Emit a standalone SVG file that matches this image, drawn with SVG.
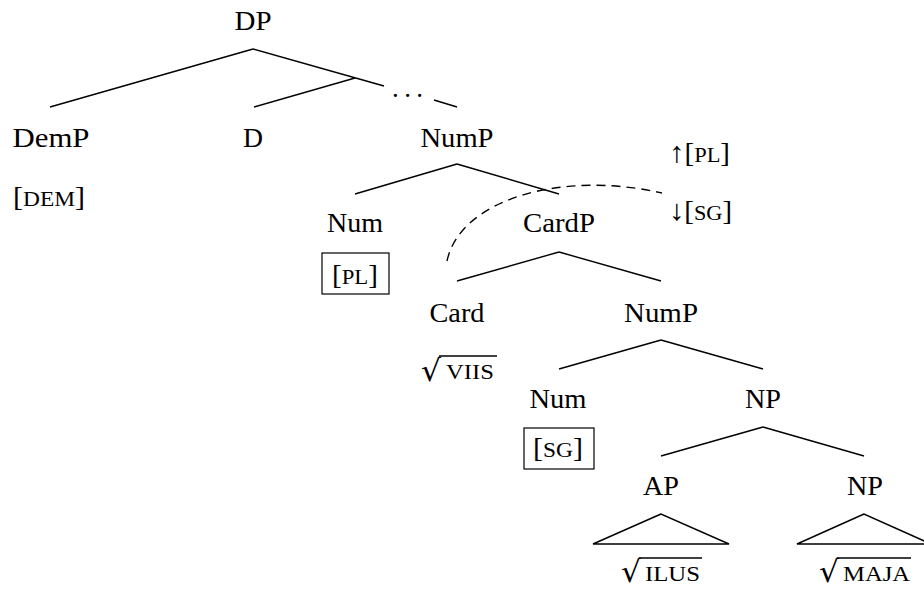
<svg xmlns="http://www.w3.org/2000/svg" width="924" height="590" viewBox="0 0 924 590">
<style>
text{font-family:"Liberation Serif","Times New Roman",serif;fill:#000}
.n{font-size:27px;text-anchor:middle}
.f{font-size:27px}
.sc{font-size:21px}
.ar{font-size:29px}
.r{font-family:"DejaVu Serif",serif;font-size:30px}
.e line,.e path,.e polygon{stroke:#000;stroke-width:1.4;fill:none}
.ov{stroke:#000;stroke-width:1.4}
.box{fill:none;stroke:#000;stroke-width:1.2}
</style>
<rect width="924" height="590" fill="#fff"/>
<g id="connectors" class="e">
<line x1="253" y1="49" x2="50" y2="107"/>
<line x1="253" y1="49" x2="384" y2="86"/>
<line x1="434" y1="100" x2="457" y2="107"/>
<line x1="254" y1="107" x2="355" y2="78"/>
<line x1="457" y1="164" x2="355" y2="194"/>
<line x1="457" y1="164" x2="559" y2="194"/>
<line x1="559" y1="252" x2="457" y2="281"/>
<line x1="559" y1="252" x2="661" y2="281"/>
<line x1="661" y1="340" x2="559" y2="369"/>
<line x1="661" y1="340" x2="763" y2="369"/>
<line x1="763" y1="427" x2="661" y2="456"/>
<line x1="763" y1="427" x2="864" y2="456"/>
<polygon points="661,514 593,544 729,544"/>
<polygon points="864,514 797,544 931,544"/>
<path d="M447,261 C460,200 560,170 662,193" stroke-dasharray="9,6"/>
</g>
<g id="DP"><text class="n" x="253" y="30" textLength="37" lengthAdjust="spacingAndGlyphs">DP</text></g>
<g id="dots"><text class="f" x="392" y="97" textLength="31" lengthAdjust="spacing">. . .</text></g>
<g id="DemP"><text class="n" x="51" y="147" textLength="77" lengthAdjust="spacingAndGlyphs">DemP</text>
<text class="f" x="13" y="206" textLength="72" lengthAdjust="spacingAndGlyphs">[<tspan class="sc">DEM</tspan>]</text></g>
<g id="D"><text class="n" x="253" y="147" textLength="20" lengthAdjust="spacingAndGlyphs">D</text></g>
<g id="NumP1"><text class="n" x="457" y="147" textLength="73" lengthAdjust="spacingAndGlyphs">NumP</text></g>
<g id="feat">
<text class="f" x="669" y="162" textLength="61" lengthAdjust="spacingAndGlyphs"><tspan class="ar">↑</tspan>[<tspan class="sc">PL</tspan>]</text>
<text class="f" x="669" y="220" textLength="63" lengthAdjust="spacingAndGlyphs"><tspan class="ar">↓</tspan>[<tspan class="sc">SG</tspan>]</text></g>
<g id="Num1"><text class="n" x="355" y="232" textLength="56" lengthAdjust="spacingAndGlyphs">Num</text>
<rect class="box" x="322" y="253" width="67" height="41"/>
<text class="f" x="332" y="284" textLength="46" lengthAdjust="spacingAndGlyphs">[<tspan class="sc">PL</tspan>]</text></g>
<g id="CardP"><text class="n" x="559" y="232" textLength="72" lengthAdjust="spacingAndGlyphs">CardP</text></g>
<g id="Card"><text class="n" x="457" y="322" textLength="55" lengthAdjust="spacingAndGlyphs">Card</text>
<text class="r" x="421" y="381" textLength="20" lengthAdjust="spacingAndGlyphs">√</text>
<line class="ov" x1="439" y1="356" x2="497" y2="356"/>
<text class="sc" x="446" y="379" textLength="48" lengthAdjust="spacingAndGlyphs">VIIS</text></g>
<g id="NumP2"><text class="n" x="661" y="322" textLength="74" lengthAdjust="spacingAndGlyphs">NumP</text></g>
<g id="Num2"><text class="n" x="558" y="408" textLength="57" lengthAdjust="spacingAndGlyphs">Num</text>
<rect class="box" x="524" y="428" width="70" height="41"/>
<text class="f" x="533" y="457" textLength="50" lengthAdjust="spacingAndGlyphs">[<tspan class="sc">SG</tspan>]</text></g>
<g id="NP1"><text class="n" x="763" y="408" textLength="36" lengthAdjust="spacingAndGlyphs">NP</text></g>
<g id="AP"><text class="n" x="661" y="495" textLength="36" lengthAdjust="spacingAndGlyphs">AP</text>
<text class="r" x="621" y="582" textLength="20" lengthAdjust="spacingAndGlyphs">√</text>
<line class="ov" x1="639" y1="558" x2="702" y2="558"/>
<text class="sc" x="645" y="581" textLength="55" lengthAdjust="spacingAndGlyphs">ILUS</text></g>
<g id="NP2"><text class="n" x="865" y="495" textLength="36" lengthAdjust="spacingAndGlyphs">NP</text>
<text class="r" x="819" y="582" textLength="20" lengthAdjust="spacingAndGlyphs">√</text>
<line class="ov" x1="837" y1="558" x2="911" y2="558"/>
<text class="sc" x="843" y="581" textLength="67" lengthAdjust="spacingAndGlyphs">MAJA</text></g>
</svg>
